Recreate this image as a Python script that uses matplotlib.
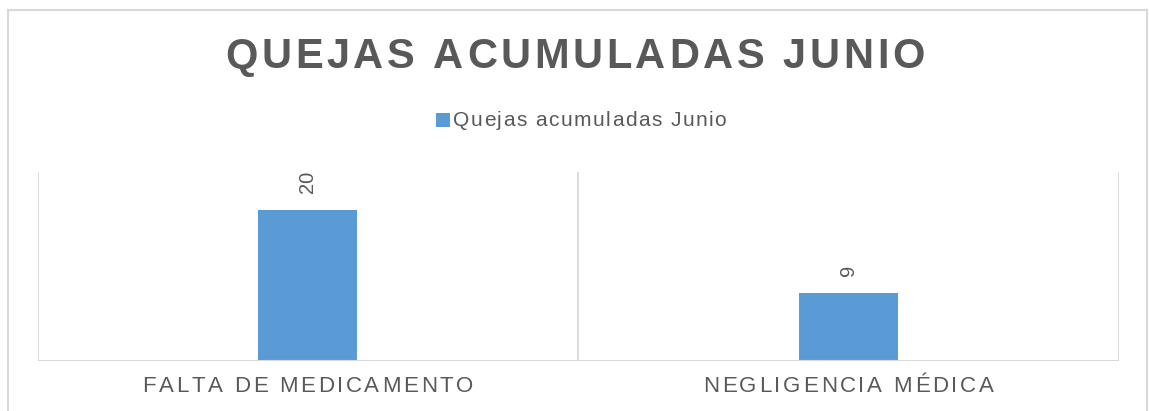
import matplotlib
matplotlib.use("Agg")
import matplotlib.pyplot as plt
from matplotlib import font_manager, transforms
from matplotlib.ft2font import FT2Font
from matplotlib.patches import Rectangle

categories = ["FALTA DE MEDICAMENTO", "NEGLIGENCIA MÉDICA"]
values = [20, 9]
series_name = "Quejas acumuladas Junio"
title = "QUEJAS ACUMULADAS JUNIO"

BAR = "#5B9BD5"
TXT = "#595959"
GRID = "#D9D9D9"
W, H, DPI = 1149, 411, 100

fig = plt.figure(figsize=(W / DPI, H / DPI), dpi=DPI)
ax = fig.add_axes([37.5 / W, 1 - 361 / H, (1118.5 - 37.5) / W, (361 - 172) / H])

x = list(range(len(categories)))
ax.bar(x, values, width=0.183, color=BAR, zorder=2)
ax.set_xlim(-0.5, len(categories) - 0.5)
ax.set_ylim(0, 25)
for b in [i - 0.5 for i in range(len(categories) + 1)]:
    ax.axvline(b, color=GRID, lw=1.3, zorder=1)
for s in ax.spines.values():
    s.set_visible(False)
ax.axhline(0, color=GRID, lw=1.5, zorder=3)
ax.set_xticks([])
ax.set_yticks([])

for xi, v in zip(x, values):
    ax.annotate(str(v), (xi, v), xytext=(0, 12), textcoords="offset points",
                rotation=90, ha="center", va="bottom", fontsize=14.5,
                family="Liberation Sans", color=TXT)


def advances(s, size, weight):
    path = font_manager.findfont(font_manager.FontProperties(family="Liberation Sans", weight=weight))
    f = FT2Font(path)
    f.set_size(size, DPI)
    return [f.load_char(ord(c)).linearHoriAdvance / 65536.0 for c in s]


def tracked(s, base_tr, x0, y0, size, weight, color, track, center=True):
    adv = advances(s, size, weight)
    total = sum(adv) + track * (len(s) - 1)
    pos = -total / 2 if center else 0
    for c, a in zip(s, adv):
        tr = transforms.offset_copy(base_tr, fig=fig, x=pos, y=0, units="dots")
        fig.text(x0, y0, c, transform=tr, fontsize=size, fontweight=weight,
                 family="Liberation Sans", color=color, ha="left", va="center")
        pos += a + track
    return total


# title
tracked(title, fig.transFigure, 575 / W, 1 - 57 / H, 30, "bold", TXT, 3.6)

# category labels
cat_tr = transforms.blended_transform_factory(ax.transData, fig.transFigure)
for xi, lab in zip(x, categories):
    tracked(lab, cat_tr, xi, 1 - 386 / H, 16, "normal", TXT, 2.7)

# legend
size_leg, leg_track = 15, 1.5
leg_adv = advances(series_name, size_leg, "normal")
leg_total = sum(leg_adv) + leg_track * (len(series_name) - 1)
sq, gap = 14, 3
start = 581 - (sq + gap + leg_total) / 2
fig.patches.append(Rectangle((start / W, 1 - 127 / H), sq / W, sq / H, transform=fig.transFigure,
                             facecolor=BAR, edgecolor="none"))
tracked(series_name, fig.transFigure, (start + sq + gap) / W, 1 - 121 / H, size_leg, "normal",
        TXT, leg_track, center=False)

# outer frame
fig.patches.append(Rectangle((8 / W, -0.1), (1147 - 8) / W, 1.1 - 10 / H, transform=fig.transFigure,
                             facecolor="none", edgecolor=GRID, lw=1.5))

fig.savefig("out.png", dpi=DPI)
